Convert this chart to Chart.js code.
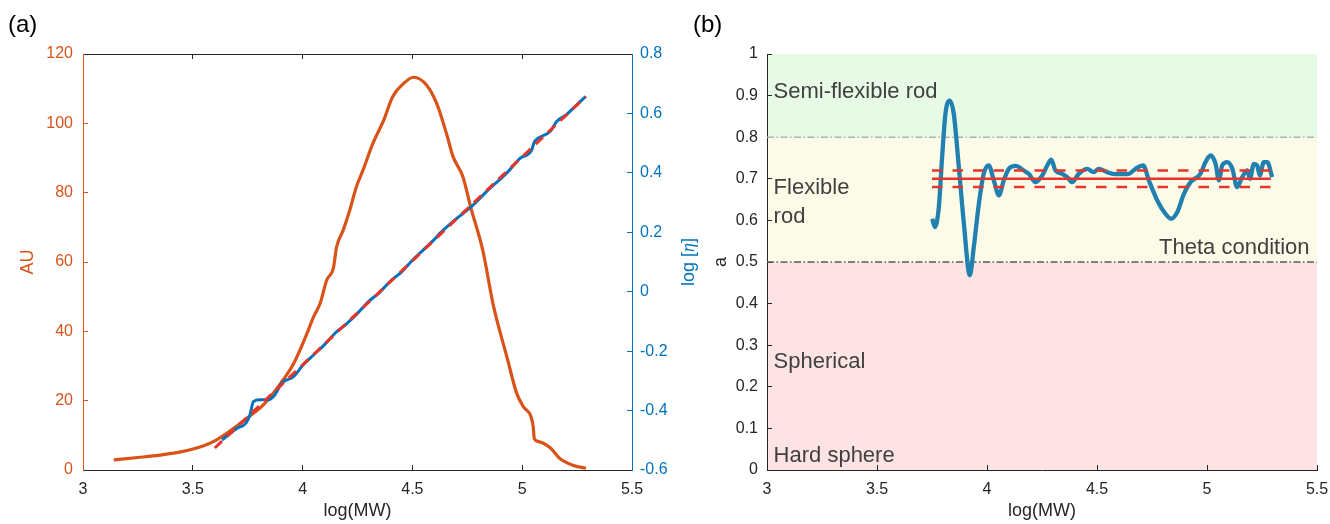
<!DOCTYPE html>
<html><head><meta charset="utf-8">
<script src="https://cdn.jsdelivr.net/npm/chart.js@4.4.1/dist/chart.umd.min.js"></script>
<style>
html,body{margin:0;padding:0;background:#fff;width:1330px;height:524px;overflow:hidden;}
#wa{position:absolute;left:0;top:0;width:700px;height:524px;}
#wb{position:absolute;left:680px;top:0;width:650px;height:524px;}
canvas{display:block;}
</style></head><body>
<div id="wa"><canvas id="ca" width="700" height="524"></canvas></div>
<div id="wb"><canvas id="cb" width="650" height="524"></canvas></div>
<script>
// ---------- Panel (a) data ----------
const auX = [3.14, 3.25, 3.35, 3.45, 3.55, 3.60, 3.67, 3.745, 3.82, 3.90, 3.96, 4.02, 4.05, 4.08, 4.11, 4.14, 4.155, 4.185, 4.215, 4.245, 4.275, 4.32, 4.37, 4.41, 4.46, 4.505, 4.565, 4.61, 4.655, 4.685, 4.73, 4.765, 4.82, 4.87, 4.93, 4.975, 5.005, 5.04, 5.05, 5.055, 5.075, 5.13, 5.17, 5.23, 5.29];
const auY = [2.9, 3.6, 4.3, 5.3, 7.0, 8.4, 11.3, 14.9, 18.7, 25.0, 30.8, 39.4, 44.2, 48.1, 54.8, 58.2, 64.4, 69.2, 75.0, 81.7, 86.5, 94.2, 101.0, 107.7, 111.5, 113.3, 111.0, 105.8, 97.1, 90.4, 84.6, 75.9, 63.5, 47.1, 32.7, 22.1, 18.3, 15.4, 12.5, 9.1, 8.2, 6.3, 3.4, 1.4, 0.5];

const etaX = [3.633, 3.70, 3.742, 3.760, 3.776, 3.806, 3.844, 3.874, 3.905, 3.958, 4.003, 4.05, 4.10, 4.15, 4.20, 4.25, 4.30, 4.35, 4.40, 4.45, 4.50, 4.55, 4.60, 4.626, 4.694, 4.732, 4.777, 4.85, 4.929, 4.990, 5.043, 5.054, 5.081, 5.127, 5.157, 5.20, 5.233, 5.289];
const etaY = [-0.499, -0.460, -0.442, -0.415, -0.370, -0.364, -0.364, -0.347, -0.308, -0.286, -0.246, -0.213, -0.178, -0.138, -0.108, -0.073, -0.033, -0.003, 0.036, 0.066, 0.106, 0.141, 0.176, 0.197, 0.242, 0.264, 0.292, 0.346, 0.399, 0.449, 0.477, 0.502, 0.520, 0.539, 0.573, 0.595, 0.618, 0.657];

const fitX = [3.60, 5.29];
const fitY = [-0.526, 0.657];

// ---------- Panel (b) data ----------
const aX = [3.751, 3.763, 3.781, 3.796, 3.811, 3.830, 3.849, 3.872, 3.895, 3.922, 3.940, 3.963, 3.985, 4.008, 4.031, 4.054, 4.076, 4.099, 4.130, 4.167, 4.190, 4.220, 4.251, 4.274, 4.292, 4.311, 4.342, 4.365, 4.387, 4.417, 4.455, 4.485, 4.508, 4.546, 4.584, 4.645, 4.675, 4.710, 4.736, 4.774, 4.811, 4.837, 4.865, 4.895, 4.925, 4.970, 4.993, 5.016, 5.039, 5.054, 5.069, 5.092, 5.115, 5.137, 5.160, 5.183, 5.195, 5.213, 5.228, 5.240, 5.258, 5.274, 5.296];
const aY = [0.604, 0.584, 0.632, 0.752, 0.856, 0.888, 0.856, 0.728, 0.592, 0.468, 0.536, 0.640, 0.712, 0.732, 0.696, 0.660, 0.696, 0.724, 0.731, 0.720, 0.712, 0.692, 0.708, 0.732, 0.746, 0.720, 0.712, 0.704, 0.692, 0.712, 0.724, 0.716, 0.724, 0.716, 0.711, 0.712, 0.724, 0.732, 0.696, 0.648, 0.616, 0.604, 0.620, 0.664, 0.692, 0.712, 0.740, 0.756, 0.736, 0.696, 0.732, 0.740, 0.724, 0.680, 0.704, 0.720, 0.700, 0.736, 0.732, 0.708, 0.740, 0.740, 0.704];

const fitRangeB = [3.75, 5.29];
const fitA = 0.70;
const fitAUpper = 0.72;
const fitALower = 0.68;
const thresholds = [0.5, 0.8];
const bandEdges = [0, 0.5, 0.8, 1];
const regionNames = ['Semi-flexible rod', 'Flexible', 'rod', 'Theta condition', 'Spherical', 'Hard sphere'];

const xTicksStep = 0.5, auStep = 20, etaStep = 0.2, aStep = 0.1;

// ---------- styles ----------
const FONT = '"Liberation Sans", Arial, Helvetica, sans-serif';
const DARK = '#262626';
const ORANGE = '#D95319';
const BLUE = '#0072BD';
const RED = '#E6352B';
const TEAL = '#2080B0';
const TXT = '#404040';
Chart.defaults.font.family = FONT;

const fmt = v => String(parseFloat(Number(v).toFixed(2)) || 0);
const pts = (xs, ys) => xs.map((x, i) => ({x: x, y: ys[i]}));
const hline = (x0, x1, v) => [{x: x0, y: v}, {x: x1, y: v}];
const fixH = s => { s.height = 54; s.paddingLeft = 0; s.paddingRight = 0; };

const panelLabel = (txt, x) => ({
  id: 'panelLabel',
  afterDraw(chart) {
    const c = chart.ctx;
    c.save();
    c.font = '24px ' + FONT;
    c.fillStyle = '#000';
    c.textBaseline = 'alphabetic';
    c.textAlign = 'left';
    c.fillText(txt, x, 32);
    c.restore();
  }
});

const etaTitle = {
  id: 'etaTitle',
  afterDraw(chart) {
    const c = chart.ctx;
    const s = chart.scales.y2;
    const cx = s.left + 57, cy = (chart.chartArea.top + chart.chartArea.bottom) / 2;
    c.save();
    c.translate(cx, cy);
    c.rotate(-Math.PI / 2);
    c.fillStyle = BLUE;
    c.textBaseline = 'middle';
    const f1 = '18px ' + FONT, f2 = 'italic 18px "Liberation Serif", "DejaVu Serif", serif';
    const parts = [['log [', f1], ['\u03B7', f2], [']', f1]];
    let w = 0;
    parts.forEach(p => { c.font = p[1]; w += c.measureText(p[0]).width; });
    let x = -w / 2;
    c.textAlign = 'left';
    parts.forEach(p => { c.font = p[1]; c.fillText(p[0], x, 0); x += c.measureText(p[0]).width; });
    c.restore();
  }
};

new Chart(document.getElementById('ca'), {
  type: 'line',
  data: { datasets: [
    {label: 'Linear fit', data: pts(fitX, fitY), yAxisID: 'y2', borderColor: RED, borderWidth: 3, borderDash: [10, 7], pointRadius: 0, order: 0},
    {label: 'log [η]', data: pts(etaX, etaY), yAxisID: 'y2', borderColor: BLUE, borderWidth: 3, pointRadius: 0, cubicInterpolationMode: 'monotone', order: 1},
    {label: 'AU', data: pts(auX, auY), yAxisID: 'y', borderColor: ORANGE, borderWidth: 3.2, pointRadius: 0, cubicInterpolationMode: 'monotone', order: 2}
  ]},
  options: {
    responsive: false, animation: false, devicePixelRatio: 1,
    layout: {padding: 0, autoPadding: false},
    plugins: {legend: {display: false}, tooltip: {enabled: false}},
    scales: {
      x: {type: 'linear', position: 'bottom', min: 3, max: 5.5,
        ticks: {stepSize: xTicksStep, color: DARK, font: {size: 16}, padding: 15, maxRotation: 0, autoSkip: false, callback: fmt},
        grid: {drawOnChartArea: false, tickLength: -5, color: DARK},
        border: {color: DARK, width: 1},
        title: {display: true, text: 'log(MW)', color: DARK, font: {size: 18}, padding: {top: 0, bottom: 2}},
        afterFit: fixH},
      xt: {type: 'linear', position: 'top', min: 3, max: 5.5,
        ticks: {stepSize: xTicksStep, display: false},
        grid: {drawOnChartArea: false, tickLength: -5, color: DARK},
        border: {color: DARK, width: 1},
        afterFit: fixH},
      y: {type: 'linear', position: 'left', min: 0, max: 120,
        ticks: {stepSize: auStep, color: ORANGE, font: {size: 16}, padding: 15, callback: fmt},
        grid: {drawOnChartArea: false, tickLength: -5, color: ORANGE},
        border: {color: ORANGE, width: 1},
        title: {display: true, text: 'AU', color: ORANGE, font: {size: 18}, padding: {top: 17.5, bottom: 0}},
        afterFit: s => { s.width = 83; }},
      y2: {type: 'linear', position: 'right', min: -0.6, max: 0.8,
        ticks: {stepSize: etaStep, color: BLUE, font: {size: 16}, padding: 13, callback: fmt},
        grid: {drawOnChartArea: false, tickLength: -5, color: BLUE},
        border: {color: BLUE, width: 1},
        afterFit: s => { s.width = 68; }}
    }
  },
  plugins: [panelLabel('(a)', 8), etaTitle]
});

const bandColors = ['#FDE3E4', '#FCFBE8', '#E6FAE6'];
const bands = {
  id: 'bands',
  beforeDraw(chart) {
    const c = chart.ctx, ca = chart.chartArea, y = chart.scales.y;
    c.save();
    for (let i = 0; i < bandEdges.length - 1; i++) {
      const top = y.getPixelForValue(bandEdges[i + 1]);
      const bot = y.getPixelForValue(bandEdges[i]);
      c.fillStyle = bandColors[i];
      c.fillRect(ca.left, top, ca.right - ca.left, bot - top);
    }
    c.restore();
  }
};
const regionText = {
  id: 'regionText',
  beforeDatasetsDraw(chart) {
    const c = chart.ctx, xs = chart.scales.x, ys = chart.scales.y;
    const anchors = [[3.03, 0.895, 'left'], [3.03, 0.663, 'left'], [3.03, 0.594, 'left'], [5.466, 0.520, 'right'], [3.03, 0.245, 'left'], [3.03, 0.0185, 'left']];
    c.save();
    c.font = '22px ' + FONT;
    c.fillStyle = TXT;
    c.textBaseline = 'alphabetic';
    regionNames.forEach((t, i) => {
      c.textAlign = anchors[i][2];
      c.fillText(t, xs.getPixelForValue(anchors[i][0]), ys.getPixelForValue(anchors[i][1]));
    });
    c.restore();
  }
};

new Chart(document.getElementById('cb'), {
  type: 'line',
  data: { datasets: [
    {label: 'fit', data: hline(fitRangeB[0], fitRangeB[1], fitA), borderColor: RED, borderWidth: 2.5, pointRadius: 0, order: 0},
    {label: 'upper', data: hline(fitRangeB[0], fitRangeB[1], fitAUpper), borderColor: RED, borderWidth: 2.5, borderDash: [10.5, 10], pointRadius: 0, order: 0},
    {label: 'lower', data: hline(fitRangeB[0], fitRangeB[1], fitALower), borderColor: RED, borderWidth: 2.5, borderDash: [10.5, 10], pointRadius: 0, order: 0},
    {label: 'a', data: pts(aX, aY), borderColor: TEAL, borderWidth: 4.3, pointRadius: 0, cubicInterpolationMode: 'monotone', order: 1},
    {label: 'theta', data: hline(3, 5.5, thresholds[0]), borderColor: '#5A5A5A', borderWidth: 1.5, borderDash: [7, 2.5, 1.5, 2.5], pointRadius: 0, order: 3},
    {label: 'semi', data: hline(3, 5.5, thresholds[1]), borderColor: '#B0B0B0', borderWidth: 1.5, borderDash: [7, 2.5, 1.5, 2.5], pointRadius: 0, order: 3}
  ]},
  options: {
    responsive: false, animation: false, devicePixelRatio: 1,
    layout: {padding: {top: 54, right: 13, left: 0, bottom: 0}, autoPadding: false},
    plugins: {legend: {display: false}, tooltip: {enabled: false}},
    scales: {
      x: {type: 'linear', position: 'bottom', min: 3, max: 5.5,
        ticks: {stepSize: xTicksStep, color: DARK, font: {size: 16}, padding: 15, maxRotation: 0, autoSkip: false, callback: fmt},
        grid: {drawOnChartArea: false, tickLength: -5, color: DARK},
        border: {color: DARK, width: 1},
        title: {display: true, text: 'log(MW)', color: DARK, font: {size: 18}, padding: {top: 0, bottom: 2}},
        afterFit: fixH},
      y: {type: 'linear', position: 'left', min: 0, max: 1,
        ticks: {stepSize: aStep, color: DARK, font: {size: 16}, padding: 14, callback: fmt},
        grid: {drawOnChartArea: false, tickLength: -5, color: DARK},
        border: {color: DARK, width: 1},
        title: {display: true, text: 'a', color: DARK, font: {size: 18}, padding: {top: 30.5, bottom: 0}},
        afterFit: s => { s.width = 87; s.paddingTop = 0; s.paddingBottom = 0; }}
    }
  },
  plugins: [bands, regionText, panelLabel('(b)', 13)]
});
</script>
</body></html>
